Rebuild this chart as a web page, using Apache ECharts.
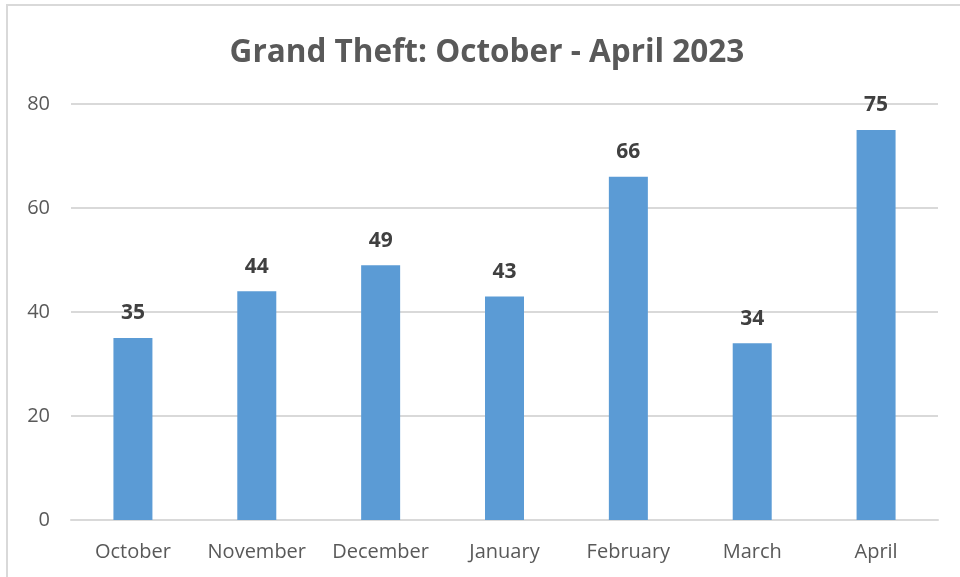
<!DOCTYPE html>
<html>
<head>
<meta charset="utf-8">
<script src="https://cdn.jsdelivr.net/npm/echarts@6/dist/echarts.min.js"></script>
<style>
html,body{margin:0;padding:0;background:#fff;}
#chart{width:960px;height:577px;}
</style>
</head>
<body>
<div id="chart"></div>
<script>
const titleText = 'Grand Theft: October - April 2023';
const categories = ['October', 'November', 'December', 'January', 'February', 'March', 'April'];
const values = [35, 44, 49, 43, 66, 34, 75];
const yTicks = [0, 20, 40, 60, 80];

const chart = echarts.init(document.getElementById('chart'), null, {renderer: 'canvas'});
chart.setOption({
  animation: false,
  backgroundColor: '#ffffff',
  graphic: [{
    type: 'rect',
    shape: {x: 7, y: 5, width: 1100, height: 1100},
    style: {fill: 'none', stroke: '#d9d9d9', lineWidth: 2},
    z: -1
  }],
  title: {
    text: titleText,
    left: 482,
    textAlign: 'center',
    top: 32,
    textStyle: {fontFamily: 'Open Sans', fontWeight: 'bold', fontSize: 31.5, color: '#595959'}
  },
  grid: {left: 71, right: 22, top: 104, bottom: 57, containLabel: false},
  xAxis: {
    type: 'category',
    data: categories,
    axisLine: {show: true, lineStyle: {color: '#d9d9d9', width: 2}},
    axisTick: {show: false},
    axisLabel: {fontFamily: 'Open Sans', fontSize: 20, color: '#595959', margin: 22, interval: 0}
  },
  yAxis: {
    type: 'value',
    min: yTicks[0],
    max: yTicks[yTicks.length - 1],
    interval: yTicks[1] - yTicks[0],
    axisLine: {show: false},
    axisTick: {show: false},
    splitLine: {lineStyle: {color: '#d9d9d9', width: 2}},
    axisLabel: {fontFamily: 'Open Sans', fontSize: 20, color: '#595959', margin: 21}
  },
  series: [{
    type: 'bar',
    data: values,
    barWidth: 39,
    itemStyle: {color: '#5b9bd5'},
    label: {
      show: true,
      position: 'top',
      distance: 14,
      fontFamily: 'Open Sans',
      fontWeight: 'bold',
      fontSize: 21,
      color: '#404040'
    }
  }]
});
</script>
</body>
</html>
